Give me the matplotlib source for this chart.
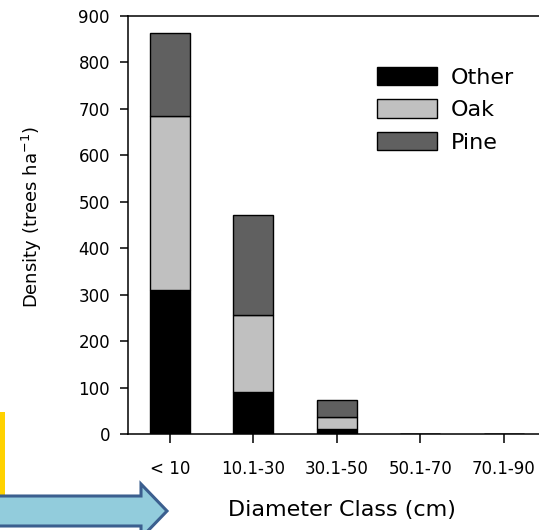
import numpy as np
import matplotlib
matplotlib.use("Agg")
import matplotlib.pyplot as plt
from matplotlib.patches import Polygon, Rectangle

plt.rcParams["font.family"] = ["DejaVu Sans"]

# Data (trees per ha)
classes = ["< 10", "10.1-30", "30.1-50", "50.1-70", "70.1-90"]
other = [310, 91, 10, 0, 0]
oak = [375, 165, 27, 0, 0]
pine = [178, 216, 36, 0, 0]

W, H = 539, 530
fig = plt.figure(figsize=(W / 100, H / 100), dpi=100)
ax = fig.add_axes([128 / W, 96 / H, 417.75 / W, 418 / H])

x = np.arange(len(classes))
bw = 0.48
ax.bar(x, other, bw, color="black", edgecolor="black", linewidth=1, label="Other")
ax.bar(x, oak, bw, bottom=other, color="#c0c0c0", edgecolor="black", linewidth=1, label="Oak")
bottom2 = np.array(other) + np.array(oak)
ax.bar(x, pine, bw, bottom=bottom2, color="#606060", edgecolor="black", linewidth=1, label="Pine")

ax.set_xlim(-0.5, 4.5)
ax.set_ylim(0, 900)
ax.set_yticks(range(0, 901, 100))
ax.set_xticks(x)
ax.set_xticklabels(classes)
ax.tick_params(axis="y", direction="out", length=6, width=1.1, labelsize=12, pad=7)
ax.tick_params(axis="x", direction="out", length=6.5, width=1.1, labelsize=12, pad=12)
for s in ax.spines.values():
    s.set_linewidth(1.1)

ax.set_xlabel("Diameter Class (cm)", fontsize=16)
ax.xaxis.set_label_coords((342 - 128) / 417.75, (434 - 500) / 418)
ax.set_ylabel(r"Density (trees ha$^{-1}$)", fontsize=13)
ax.yaxis.set_label_coords((44 - 128) / 417.75, (434 - 217) / 418)

leg = ax.legend(loc="upper left", bbox_to_anchor=(377 / W, 1 - 67 / H),
                bbox_transform=fig.transFigure, frameon=False, fontsize=16,
                handlelength=2.7, handleheight=0.9, handletextpad=0.63,
                labelspacing=0.52, borderpad=0, borderaxespad=0)

# slide decorations: yellow strip and blue arrow
fig.patches.append(Rectangle((0, 1 - 495 / H), 5 / W, 83 / H, transform=fig.transFigure,
                             facecolor="#ffd200", edgecolor="none"))
pts = [(-10, 496), (141, 496), (141, 484), (167, 511), (141, 538), (141, 526), (-10, 526)]
fig.patches.append(Polygon([(px / W, 1 - py / H) for px, py in pts], closed=True,
                           transform=fig.transFigure, facecolor="#92ccdc",
                           edgecolor="#3b5f8f", linewidth=2.2))

fig.savefig("out.png", dpi=100)
